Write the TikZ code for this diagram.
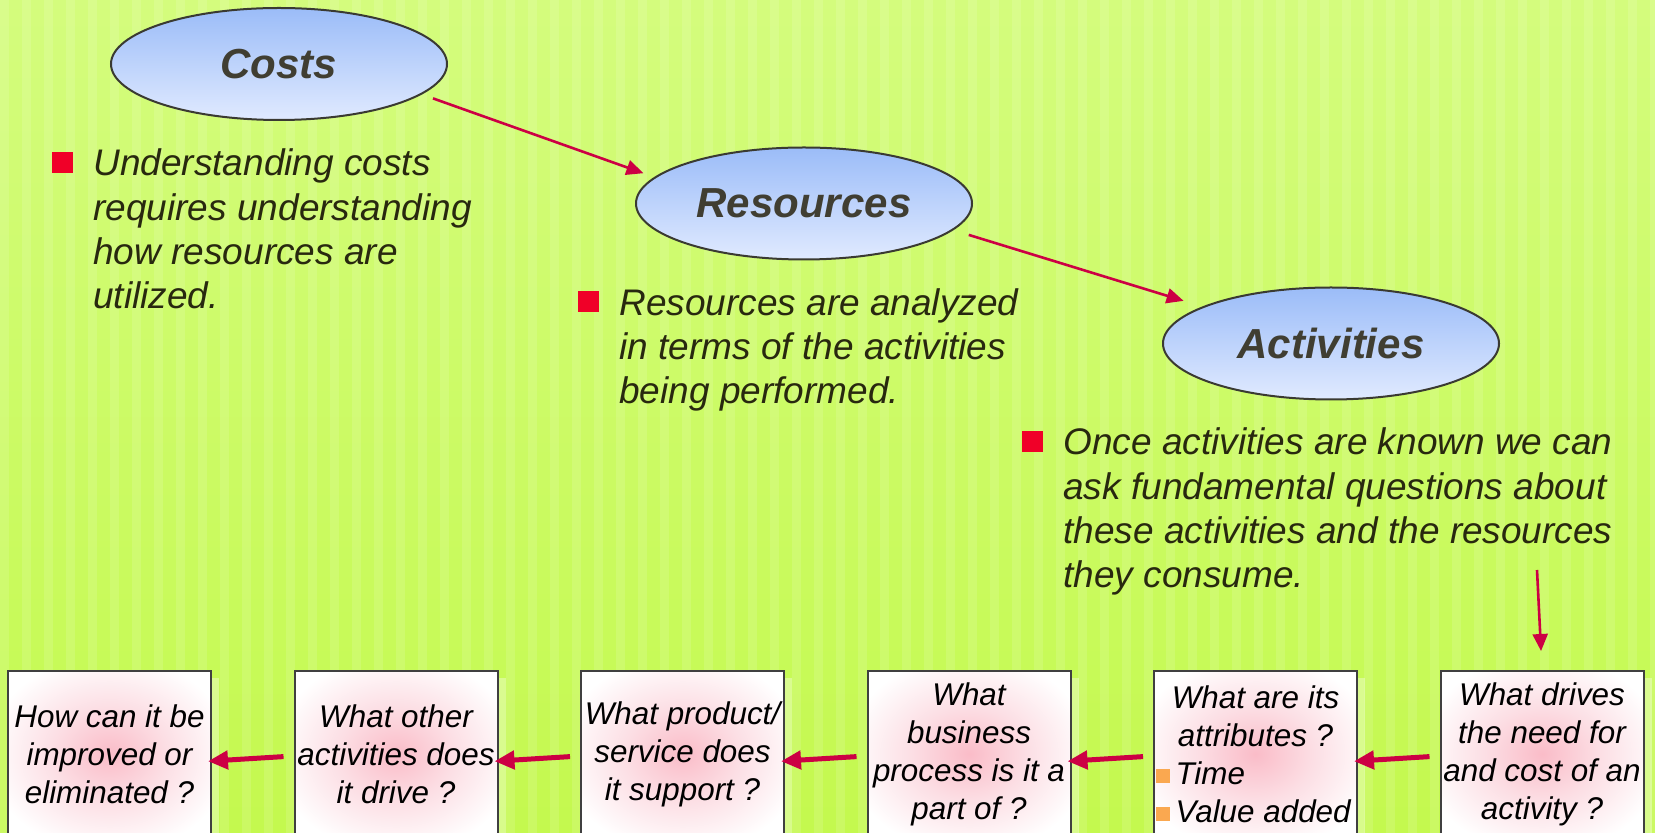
\documentclass[tikz,border=0pt]{standalone}
\usepackage{fontspec}
\setmainfont{Liberation Sans}
\usetikzlibrary{shapes.geometric,arrows.meta,shadows}

\definecolor{bgtop}{RGB}{212,252,125}
\definecolor{bgbot}{RGB}{196,249,78}
\definecolor{ovaltop}{RGB}{155,188,248}
\definecolor{ovalbot}{RGB}{224,234,255}
\definecolor{ovaltext}{RGB}{64,62,50}
\definecolor{linkred}{RGB}{204,0,68}
\definecolor{bulletred}{RGB}{240,0,40}
\definecolor{bulletorange}{RGB}{250,168,80}
\definecolor{bodytext}{RGB}{40,40,15}
\definecolor{glow}{RGB}{250,188,200}
\definecolor{glowsoft}{RGB}{252,222,228}

\pgfdeclareradialshading{boxglow}{\pgfpoint{0bp}{0bp}}{color(0bp)=(glow); color(14bp)=(glowsoft); color(30bp)=(white); color(50bp)=(white)}

\newcommand{\redsq}{\llap{\textcolor{bulletred}{\rule[1.5pt]{10.5pt}{10.5pt}}\hspace{10pt}}}
\newcommand{\orangesq}{\textcolor{bulletorange}{\rule[0.5pt]{7pt}{7pt}}\hspace{3pt}}

\begin{document}
\begin{tikzpicture}[x=0.5pt,y=-0.5pt]
    \tikzset{
    oval/.style={ellipse,draw={rgb,255:red,58;green,58;blue,50},line width=1pt,top color=ovaltop,bottom color=ovalbot,
        minimum width=168pt,minimum height=56pt,inner sep=0pt,text=ovaltext,font=\fontsize{21}{25}\selectfont\bfseries\itshape},
    note/.style={anchor=base west,align=left,inner sep=0pt,text=bodytext,font=\fontsize{18.5}{22.2}\selectfont\itshape},
    ask/.style={rectangle,draw={rgb,255:red,64;green,64;blue,64},line width=1pt,shade,shading=boxglow,
        minimum height=83pt,minimum width=101.5pt,inner sep=0pt,align=center,
        font=\fontsize{15.7}{19}\selectfont\itshape,
        drop shadow={shadow xshift=4pt,shadow yshift=-3.5pt,fill=white,opacity=0.35}},
    link/.style={draw=linkred,line width=1.3pt,-{Triangle[length=8.5pt,width=7.5pt]}},
    qlink/.style={draw=linkred,line width=2.5pt,-{Triangle[length=10pt,width=9pt]},shorten <=5pt,shorten >=-2pt},
    }
    \useasboundingbox (0,0) rectangle (1655,833);
    \clip (0,0) rectangle (1655,833);
    \shade[top color=bgtop,bottom color=bgbot] (0,0) rectangle (1655,833);
    \foreach \x in {0,22,...,1650}
        \fill[white,opacity=0.12] (\x,0) rectangle ++(9,833);

    \node[oval] (costs) at (279,64) {Costs};
    \node[oval] (resources) at (804,203.5) {Resources};
    \node[oval] (activities) at (1331,343.5) {Activities};

    % base anchor sits on the last line
    \node[note] (n1) at (93,309) {\redsq Understanding costs\\requires understanding\\how resources are\\utilized.};
    \node[note] (n2) at (619,404) {\redsq Resources are analyzed\\in terms of the activities\\being performed.};
    \node[note] (n3) at (1063,588) {\redsq Once activities are known we can\\ask fundamental questions about\\these activities and the resources\\they consume.};

    \node[ask] (b1) at (109.5,754) {How can it be\\improved or\\eliminated ?};
    \node[ask] (b2) at (396,754) {What other\\activities does\\it drive ?};
    \node[ask] (b3) at (682.5,754) {What product/\\service does\\it support ?};
    \node[ask] (b4) at (969,754) {What\\business\\process is it a\\part of ?};
    \node[ask] (b5) at (1255.5,754) {What are its\\attributes ?\\\makebox[100pt][l]{\orangesq Time}\\\makebox[100pt][l]{\orangesq Value added}};
    \node[ask] (b6) at (1542,754) {What drives\\the need for\\and cost of an\\activity ?};

    \coordinate (drop) at (1537,570);

    \draw[link,shorten >=5.75pt] ([shift={(11,4)}]costs.-12) -- (resources.170);
    \draw[link,shorten >=9.75pt] ([shift={(15,5)}]resources.-10) -- (activities.164);
    \draw[link,shorten >=9.5pt] (drop) -- (b6.north);

    \draw[qlink] ([yshift=-1pt]b6.west) -- ([yshift=-3.5pt]b5.east);
    \draw[qlink] ([yshift=-1pt]b5.west) -- ([yshift=-3.5pt]b4.east);
    \draw[qlink] ([yshift=-1pt]b4.west) -- ([yshift=-3.5pt]b3.east);
    \draw[qlink] ([yshift=-1pt]b3.west) -- ([yshift=-3.5pt]b2.east);
    \draw[qlink] ([yshift=-1pt]b2.west) -- ([yshift=-3.5pt]b1.east);
\end{tikzpicture}
\end{document}
